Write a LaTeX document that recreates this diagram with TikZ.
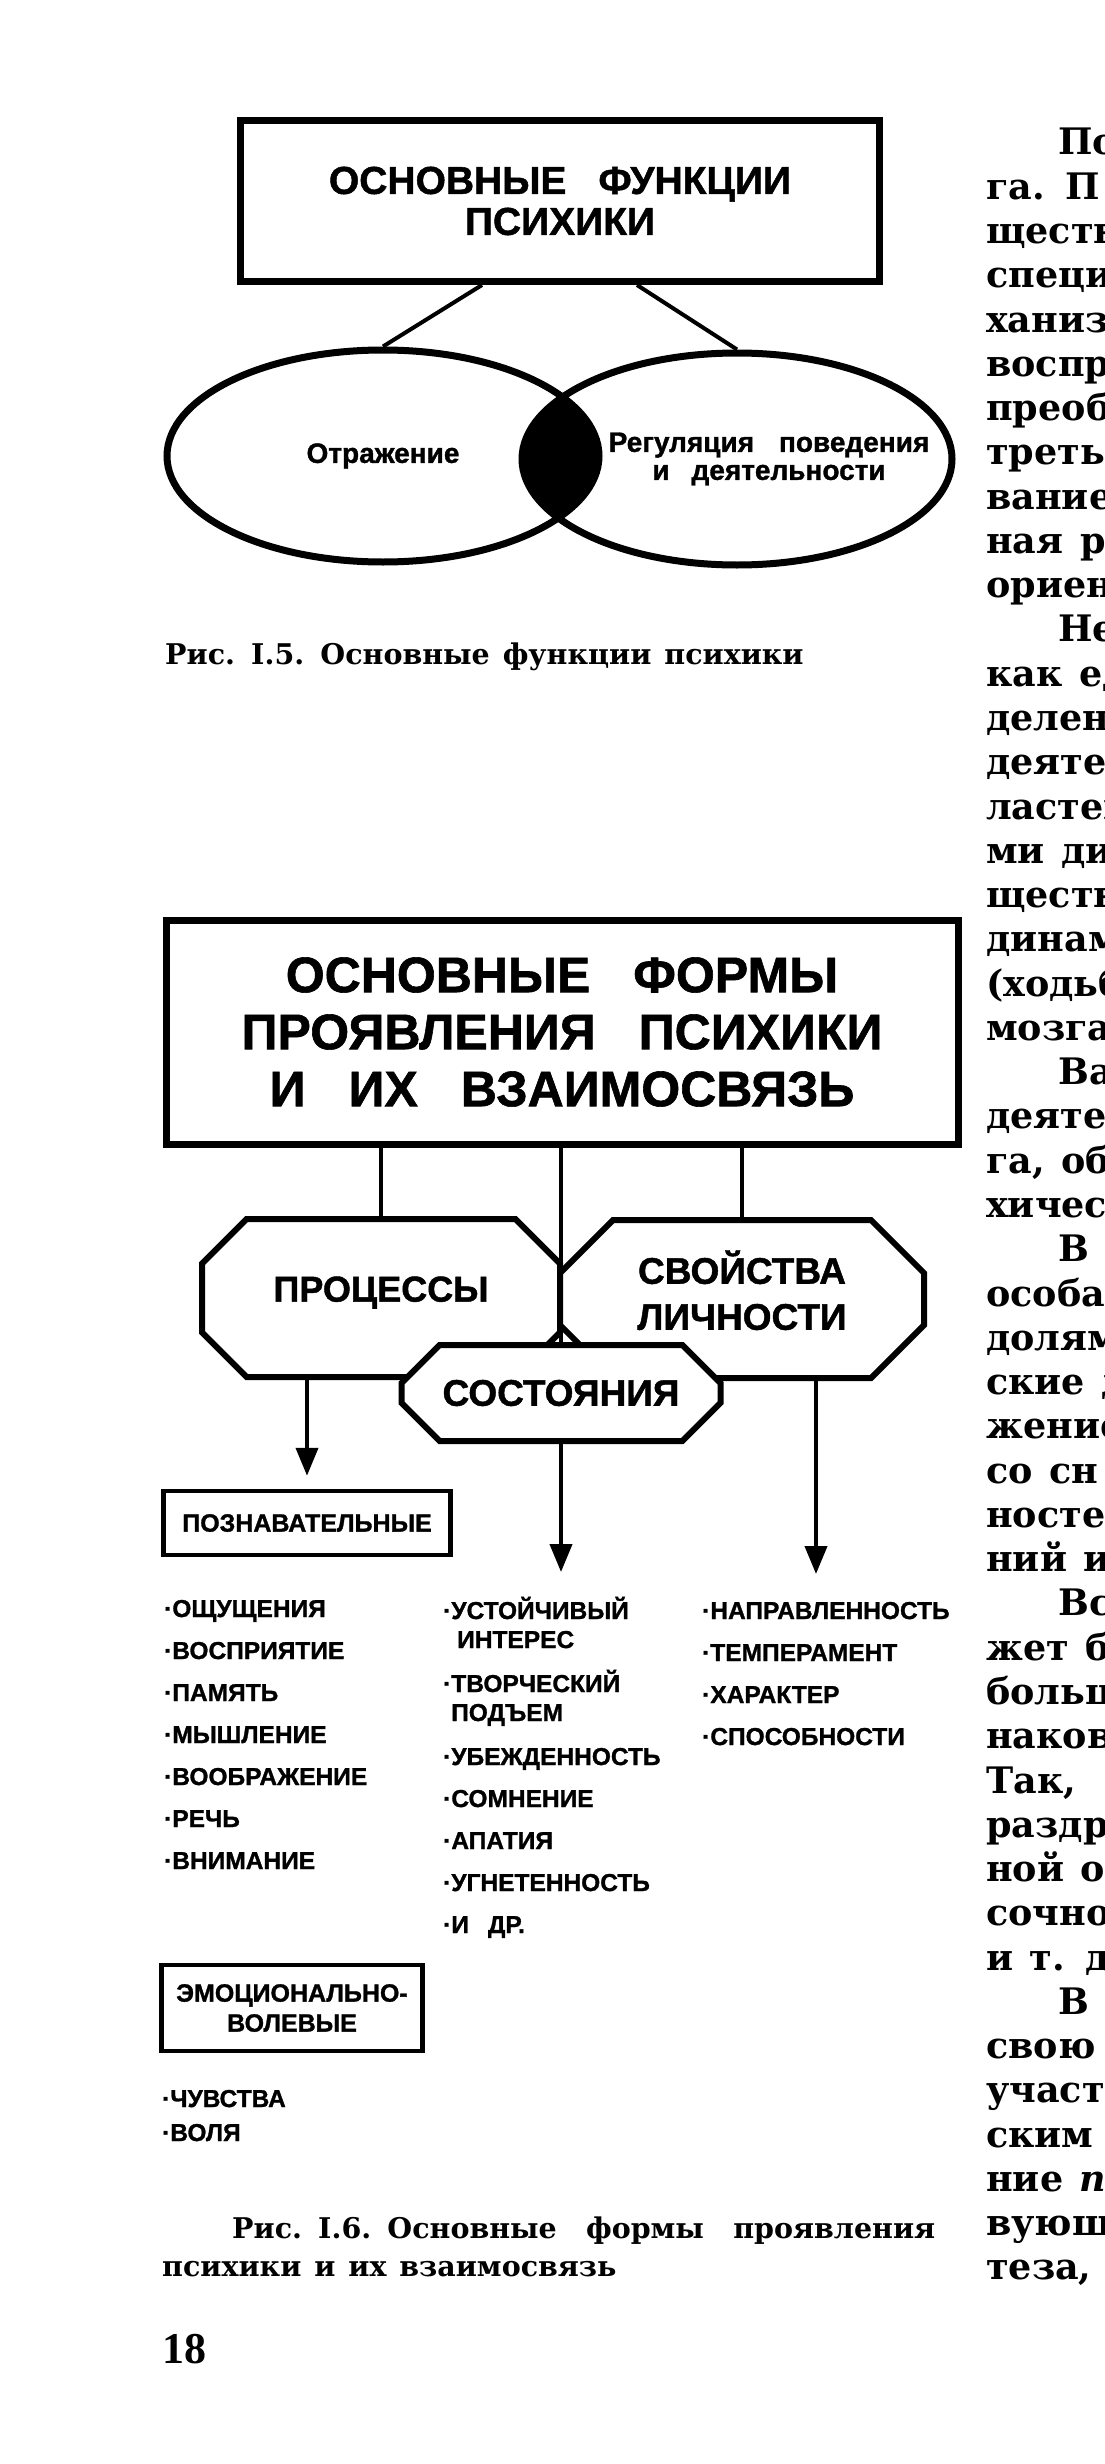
\documentclass[tikz,border=0pt]{standalone}
\usepackage{fontspec}
\setmainfont{Liberation Serif}
\newfontfamily\diafont[FakeBold=1.2]{Liberation Sans}
\newfontfamily\capfont[WordSpace=1.4]{DejaVu Serif}
\newfontfamily\pagefont{Liberation Serif}
\newfontfamily\bodyfont[WordSpace=1.3]{DejaVu Serif}
\usepackage{tikz}
\usetikzlibrary{positioning}
\usetikzlibrary{arrows.meta, shapes.geometric, shapes.misc}

\begin{document}
\begin{tikzpicture}[x=1pt, y=-1pt,
  head/.style = {draw, line width=7pt, inner sep=0pt, align=center},
  lobe/.style = {draw, ellipse, line width=7pt, inner sep=0pt, font=\diafont\bfseries\fontsize{28}{27}\selectfont},
  octo/.style = {draw, fill=white, chamfered rectangle, chamfered rectangle xsep=30pt, chamfered rectangle ysep=23pt, line width=6pt, inner sep=0pt, align=center, font=\diafont\bfseries\fontsize{36}{46}\selectfont},
  group/.style = {draw, line width=4.5pt, inner sep=0pt, align=center, font=\diafont\bfseries\fontsize{25}{30}\selectfont},
  item/.style = {anchor=base west, inner sep=0pt, font=\diafont\bfseries\fontsize{24.5}{29}\selectfont},
  link/.style = {line width=4pt},
  arr/.style = {line width=4pt, -{Triangle[width=22pt, length=28pt]}},
  caption/.style = {anchor=base west, inner sep=0pt, font=\capfont\bfseries\fontsize{28.5}{36}\selectfont},
  bodyline/.style = {anchor=base west, inner sep=0pt, font=\bodyfont\bfseries\fontsize{36.5}{44}\selectfont}]

\useasboundingbox (0,0) rectangle (1104,2464);

% fig. I.5
\node[head, minimum width=639pt, minimum height=161pt, font=\diafont\bfseries\fontsize{39}{41}\selectfont] (functions) at (560,201) {ОСНОВНЫЕ\hspace{32pt}ФУНКЦИИ\\ПСИХИКИ};
\node[lobe, minimum width=432pt, minimum height=212pt] (reflect) at (383,456) {Отражение};
\node[lobe, minimum width=430pt, minimum height=212pt] (regulate) at (737,459) {};
\begin{scope}
\clip (reflect.center) ellipse [x radius=216, y radius=106];
\fill (regulate.center) ellipse [x radius=215, y radius=106];
\end{scope}
\node[inner sep=0pt, align=center, font=\diafont\bfseries\fontsize{28}{28}\selectfont] (regtext) at (769,459) {Регуляция\hspace{25pt}поведения\\и\hspace{22pt}деятельности};
\draw[link] ([xshift=-78pt]functions.south) -- (reflect.north);
\draw[link] ([xshift=77pt]functions.south) -- (regulate.north);
\node[caption] (fig5) at (165,664) {Рис. I.5. Основные функции психики};

% fig. I.6
\node[head, minimum width=792pt, minimum height=224pt, font=\diafont\bfseries\fontsize{50}{57}\selectfont] (forms) at (562,1032) {ОСНОВНЫЕ\hspace{43pt}ФОРМЫ\\ПРОЯВЛЕНИЯ\hspace{43pt}ПСИХИКИ\\И\hspace{43pt}ИХ\hspace{43pt}ВЗАИМОСВЯЗЬ};
\node[octo, minimum width=358pt, minimum height=158pt, text depth=18pt] (processes) at (381,1298) {ПРОЦЕССЫ};
\node[octo, minimum width=364pt, minimum height=158pt, text depth=18pt, font=\diafont\bfseries\fontsize{37}{46}\selectfont] (traits) at (742,1299) {СВОЙСТВА\\ЛИЧНОСТИ};
\node[octo, chamfered rectangle xsep=25pt, chamfered rectangle ysep=25pt, minimum width=319pt, minimum height=96pt, font=\diafont\bfseries\fontsize{37}{46}\selectfont] (state) at (561,1393) {СОСТОЯНИЯ};
\draw[link] (forms.south -| processes.north) -- (processes.north);
\draw[link] (forms.south -| traits.north) -- (traits.north);
\draw[link] (forms.south -| state.north) -- (state.north);

\node[group, minimum width=287pt, minimum height=64pt] (cognitive) at (307,1523) {ПОЗНАВАТЕЛЬНЫЕ};
\coordinate (statetip) at (561,1572);
\coordinate (traittip) at (816,1574);
\draw[arr] (cognitive.north |- processes.south) -- ([yshift=13pt]cognitive.north);
\draw[arr] (state.south) -- (statetip);
\draw[arr] (traittip |- traits.south) -- (traittip);

\node[item] (c1) at (164,1617) {·ОЩУЩЕНИЯ};
\node[item] (c2) at ([yshift=-42pt]c1.base west) {·ВОСПРИЯТИЕ};
\node[item] (c3) at ([yshift=-42pt]c2.base west) {·ПАМЯТЬ};
\node[item] (c4) at ([yshift=-42pt]c3.base west) {·МЫШЛЕНИЕ};
\node[item] (c5) at ([yshift=-42pt]c4.base west) {·ВООБРАЖЕНИЕ};
\node[item] (c6) at ([yshift=-42pt]c5.base west) {·РЕЧЬ};
\node[item] (c7) at ([yshift=-42pt]c6.base west) {·ВНИМАНИЕ};

\node[item] (s1) at (443,1619) {·УСТОЙЧИВЫЙ};
\node[item] (s1b) at ([xshift=14pt, yshift=-29pt]s1.base west) {ИНТЕРЕС};
\node[item] (s2) at ([xshift=-14pt, yshift=-44pt]s1b.base west) {·ТВОРЧЕСКИЙ};
\node[item] (s2b) at ([xshift=8pt, yshift=-29pt]s2.base west) {ПОДЪЕМ};
\node[item] (s3) at ([xshift=-8pt, yshift=-44pt]s2b.base west) {·УБЕЖДЕННОСТЬ};
\node[item] (s4) at ([yshift=-42pt]s3.base west) {·СОМНЕНИЕ};
\node[item] (s5) at ([yshift=-42pt]s4.base west) {·АПАТИЯ};
\node[item] (s6) at ([yshift=-42pt]s5.base west) {·УГНЕТЕННОСТЬ};
\node[item] (s7) at ([yshift=-42pt]s6.base west) {·И\hspace{19pt}ДР.};

\node[item] (t1) at (702,1619) {·НАПРАВЛЕННОСТЬ};
\node[item] (t2) at ([yshift=-42pt]t1.base west) {·ТЕМПЕРАМЕНТ};
\node[item] (t3) at ([yshift=-42pt]t2.base west) {·ХАРАКТЕР};
\node[item] (t4) at ([yshift=-42pt]t3.base west) {·СПОСОБНОСТИ};

\node[group, minimum width=261pt, minimum height=86pt] (emotional) at (292,2008) {ЭМОЦИОНАЛЬНО-\\ВОЛЕВЫЕ};
\node[item] (e1) at (162,2107) {·ЧУВСТВА};
\node[item] (e2) at ([yshift=-34pt]e1.base west) {·ВОЛЯ};

\node[caption] (fig6a) at (232,2238) {\hbox to 703pt{Рис. I.6. Основные\hfill формы\hfill проявления}};
\node[caption] (fig6b) at (162,2276) {психики и их взаимосвязь};
\node[anchor=base west, inner sep=0pt, font=\pagefont\bfseries\fontsize{44}{48}\selectfont] (page) at (162,2363) {18};

% page text, cut by the right edge
\begin{scope}
\clip (0,0) rectangle (1104,2464);
\foreach \dx/\t [count=\i] in {72/По, 0/га. П, 0/ществ, 0/специ, 0/ханиз, 0/воспр, 0/преоб, 0/третьи, 0/вание, 0/ная р, 0/ориен,
  72/Не, 0/как ед, 0/делен, 0/деятел, 0/ластен, 0/ми ди, 0/ществ, 0/динам, 0/(ходьб, 0/мозга,
  72/Ва, 0/деятел, 0/{га, об}, 0/хичес, 72/В, 0/особаз, 0/долям, 0/ские д, 0/жение, 0/со сн, 0/ностей, 0/ний и,
  72/Вс, 0/жет б, 0/больш, 0/наков, 0/{Так,}, 0/раздр, 0/ной об, 0/сочно, 0/и т. д.,
  72/В, 0/свою, 0/участ, 0/ским, 0/ние \textit{п}, 0/вующ, 0/{теза, с}}
  \node[bodyline] (line-\i) at ({986+\dx},{155+(\i-1)*44.27}) {\t};
\end{scope}
\end{tikzpicture}
\end{document}
